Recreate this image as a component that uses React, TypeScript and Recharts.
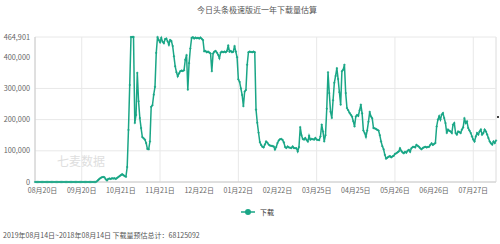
import { LineChart, Line, XAxis, YAxis, CartesianGrid, Legend, ReferenceLine } from "recharts"

// daily download estimates, 2018-08-14 .. 2019-08-14
const augSep2018 = [
  0, 0, 0, 0, 0, 0, 0, 0, 0, 0, 0, 0, 0, 0, 0, 0, 0, 0, 0, 0, 0, 0, 0, 0,
  0, 0, 0, 0, 0, 0, 0, 0, 0, 0, 0, 0, 0, 0, 0, 0, 0, 0, 0, 0, 0, 0, 0, 0,
]
const octNov2018 = [
  0, 2000, 6000, 10000, 13000, 15000, 16000, 15000, 9000, 5000,
  10000, 11000, 10000, 12000, 11000, 12000, 10000, 13000, 16000, 19000,
  22000, 25000, 22000, 19000, 17000, 48000, 167000, 311000, 464901, 464901,
  464901, 189000, 215000, 350000, 259000, 205000, 173000, 144000, 140000, 136000,
  125000, 106000, 105000, 130000, 241000, 246000, 280000, 305000, 414000, 464901,
  455000, 448000, 462000, 450000, 445000, 458000, 460000, 451000, 440000, 455000,
  452000,
]
const decJan2019 = [
  436000, 403000, 371000, 352000, 339000, 348000, 355000, 357000, 356000, 358000,
  392000, 407000, 296000, 381000, 428000, 462000, 464000, 460000, 463000, 461000,
  462000, 460000, 463000, 459000, 455000, 419000, 420000, 416000, 418000, 415000,
  412000, 355000, 412000, 418000, 420000, 415000, 408000, 397000, 415000, 418000,
  416000, 418000, 416000, 420000, 438000, 418000, 420000, 416000, 418000, 436000,
  418000, 400000, 329000, 321000, 300000, 279000, 243000, 290000, 295000, 376000,
  416000, 418000,
]
const febMar2019 = [
  417000, 416000, 418000, 416000, 232000, 190000, 158000, 128000, 119000, 113000,
  111000, 120000, 130000, 126000, 120000, 117000, 116000, 115000, 114000, 104000,
  112000, 125000, 133000, 137000, 138000, 135000, 127000, 112000, 109000, 114000,
  111000, 110000, 109000, 114000, 109000, 108000, 108000, 98000, 112000, 176000,
  150000, 138000, 136000, 141000, 135000, 130000, 148000, 136000, 138000, 137000,
  136000, 141000, 136000, 135000, 134000, 146000, 184000, 162000, 130000,
]
const aprMay2019 = [
  150000, 235000, 352000, 285000, 225000, 205000, 262000, 318000, 340000, 365000,
  330000, 288000, 248000, 355000, 360000, 376000, 285000, 237000, 230000, 222000,
  216000, 210000, 195000, 178000, 210000, 215000, 212000, 230000, 248000, 220000,
  165000, 157000, 145000, 165000, 193000, 225000, 210000, 204000, 173000, 172000,
  170000, 167000, 165000, 150000, 130000, 115000, 105000, 87000, 75000, 78000,
  81000, 83000, 79000, 82000, 84000, 90000, 92000, 95000, 98000, 108000,
  100000,
]
const junJul2019 = [
  95000, 92000, 97000, 94000, 100000, 103000, 97000, 108000, 112000, 113000,
  111000, 119000, 116000, 113000, 108000, 105000, 109000, 111000, 113000, 111000,
  112000, 113000, 119000, 124000, 119000, 122000, 125000, 178000, 200000, 211000,
  200000, 216000, 221000, 205000, 189000, 157000, 168000, 164000, 162000, 157000,
  184000, 189000, 157000, 152000, 162000, 160000, 157000, 168000, 175000, 205000,
  189000, 194000, 173000, 165000, 157000, 146000, 136000, 130000, 146000, 157000,
  152000,
]
const aug2019 = [
  162000, 168000, 152000, 157000, 168000, 162000, 152000, 141000, 130000, 124000,
  120000, 130000, 125000, 133000,
]

const tickLabels = [
  "08月20日", "09月20日", "10月21日", "11月21日", "12月22日", "01月22日",
  "02月22日", "03月25日", "04月25日", "05月26日", "06月26日", "07月27日",
]
const yTicks = [0, 100000, 200000, 300000, 400000, 464901]

const downloads = [...augSep2018, ...octNov2018, ...decJan2019, ...febMar2019, ...aprMay2019, ...junJul2019, ...aug2019]

const pad = (n: number) => (n < 10 ? "0" + n : "" + n)
const dates = downloads.map((_, i) => {
  const d = new Date(2018, 7, 14 + i)
  return `${pad(d.getMonth() + 1)}月${pad(d.getDate())}日`
})
const chartData = downloads.map((v, i) => ({ i, date: dates[i], value: v }))
const tickIdx = tickLabels.map((l) => dates.indexOf(l))

const green = "#1aa686"
const font = '"Noto Sans CJK SC", "Noto Sans", sans-serif'

const renderLegend = () => (
  <div style={{ display: "flex", justifyContent: "center", alignItems: "center", height: 16, paddingLeft: 19 }}>
    <svg width={14} height={8}>
      <line x1={0} y1={4} x2={14} y2={4} stroke={green} strokeWidth={1.5} />
      <circle cx={7} cy={4} r={3} fill={green} />
    </svg>
    <span style={{ marginLeft: 5, fontSize: 7, color: "#333" }}>下载</span>
  </div>
)

export default function App() {
  return (
    <div style={{ position: "absolute", left: 0, top: 0, width: 500, height: 244, fontFamily: font, background: "#fff" }}>
      <div style={{ position: "absolute", left: 0, top: 4, width: 514, textAlign: "center", fontSize: 8, color: "#555", lineHeight: "12px" }}>
        今日头条极速版近一年下载量估算
      </div>
      <div style={{ position: "absolute", left: 57, top: 153, fontSize: 12, color: "#dedede", lineHeight: "16px" }}>七麦数据</div>
      <LineChart width={500} height={244} data={chartData} margin={{ top: 37, right: 4, left: 0, bottom: 24 }}>
        <CartesianGrid stroke="#e8e8e8" />
        <XAxis
          type="number"
          dataKey="i"
          domain={[0, 365]}
          ticks={tickIdx}
          tickFormatter={(v) => dates[v]}
          height={22}
          tickLine={false}
          tickSize={3}
          tickMargin={3}
          axisLine={{ stroke: "#ccc" }}
          tick={{ fontSize: 7, fill: "#666" }}
        />
        <YAxis
          domain={[0, 464901]}
          ticks={yTicks}
          width={35}
          tickLine={false}
          tickSize={3}
          tickMargin={2}
          axisLine={{ stroke: "#ccc" }}
          tick={{ fontSize: 7.3, fill: "#666" }}
          tickFormatter={(v) => v.toLocaleString("en-US")}
        />
        <ReferenceLine x={365} stroke="#e8e8e8" />
        <Legend verticalAlign="bottom" height={16} content={renderLegend} />
        <Line
          type="linear"
          dataKey="value"
          name="下载"
          stroke={green}
          strokeWidth={1.5}
          dot={{ r: 0.8, fill: green, stroke: green, strokeWidth: 0.5 }}
          isAnimationActive={false}
        />
      </LineChart>
      <div style={{ position: "absolute", left: 3, top: 230, fontSize: 7, color: "#555", lineHeight: "10px", whiteSpace: "nowrap" }}>
        2019年08月14日~2018年08月14日 下载量预估总计：68125092
      </div>
      <div style={{ position: "absolute", left: 497, top: 116, width: 2, height: 2, borderRadius: 1, background: "#000" }} />
    </div>
  )
}
